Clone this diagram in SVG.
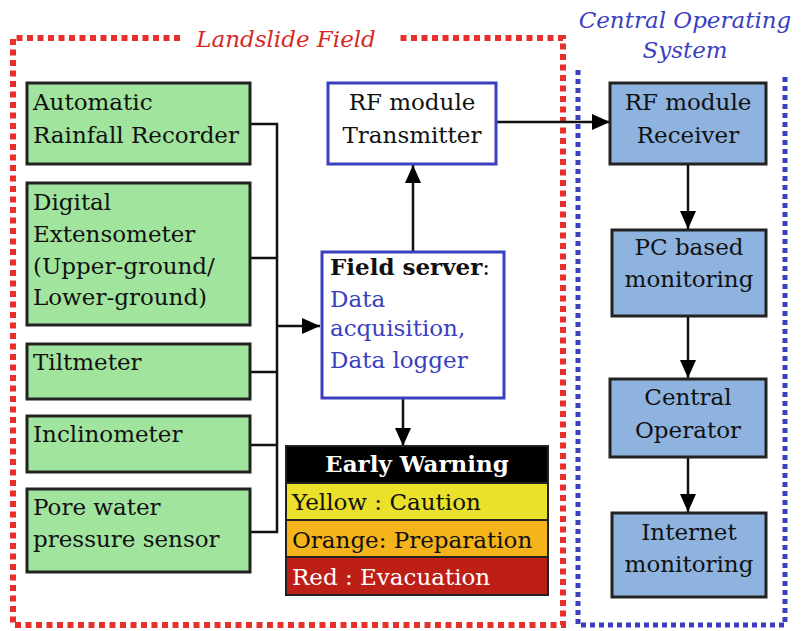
<svg xmlns="http://www.w3.org/2000/svg" width="807" height="631" viewBox="0 0 807 631">
<defs>
<marker id="ah" viewBox="0 0 18 16" refX="18" refY="8" markerWidth="18" markerHeight="16" markerUnits="userSpaceOnUse" orient="auto">
<path d="M0,0 L18,8 L0,16 z" fill="#000"/>
</marker>
</defs>
<style>
text{font-family:"DejaVu Serif","Liberation Serif",serif;font-size:23px;fill:#111;}
.t{font-style:italic;font-size:23px;}
.g{fill:#a1e49e;stroke:#222;stroke-width:3;}
.b{fill:#8fb3df;stroke:#222;stroke-width:3;}
.w{fill:#fff;stroke:#3a3fbf;stroke-width:3;}
.c{fill:none;stroke:#111;stroke-width:2.5;}
.m{text-anchor:middle;}
</style>
<rect width="807" height="631" fill="#fff"/>
<!-- regions -->
<g id="landslide-field">
<path d="M180,38 L13,38 L13,625 L563,625 L563,38 L400,38" fill="none" stroke="#e8302a" stroke-width="6" stroke-dasharray="6 4.5"/>
<text class="t m" x="286" y="47" style="fill:#d42a24">Landslide Field</text>
</g>
<g id="central-operating-system">
<path d="M578,70 L578,625 L785,625 L785,73" fill="none" stroke="#3a3fbf" stroke-width="5" stroke-dasharray="5 4"/>
<text class="t m" x="685" y="28" style="fill:#3a3fbf">Central Operating</text>
<text class="t m" x="685" y="58" style="fill:#3a3fbf">System</text>
</g>
<!-- connectors -->
<g id="connectors">
<path class="c" d="M250,124 H277 V532 H250 M250,258 H277 M250,372 H277 M250,445 H277"/>
<line class="c" x1="277" y1="326" x2="320" y2="326" marker-end="url(#ah)"/>
<line class="c" x1="413" y1="252" x2="413" y2="165" marker-end="url(#ah)"/>
<line class="c" x1="496" y1="122" x2="610" y2="122" marker-end="url(#ah)"/>
<line class="c" x1="403" y1="398" x2="403" y2="446" marker-end="url(#ah)"/>
<line class="c" x1="688" y1="164" x2="688" y2="229" marker-end="url(#ah)"/>
<line class="c" x1="688" y1="316" x2="688" y2="378" marker-end="url(#ah)"/>
<line class="c" x1="688" y1="457" x2="688" y2="512" marker-end="url(#ah)"/>
</g>
<!-- sensors -->
<g id="rainfall-recorder">
<rect class="g" x="27" y="83" width="223" height="81"/>
<text x="33" y="110">Automatic</text>
<text x="33" y="143">Rainfall Recorder</text>
</g>
<g id="extensometer">
<rect class="g" x="27" y="183" width="223" height="142"/>
<text x="33" y="210">Digital</text>
<text x="33" y="242">Extensometer</text>
<text x="33" y="274">(Upper-ground/</text>
<text x="33" y="305">Lower-ground)</text>
</g>
<g id="tiltmeter">
<rect class="g" x="27" y="344" width="223" height="55"/>
<text x="33" y="370">Tiltmeter</text>
</g>
<g id="inclinometer">
<rect class="g" x="27" y="416" width="223" height="56"/>
<text x="33" y="442">Inclinometer</text>
</g>
<g id="pore-water">
<rect class="g" x="27" y="489" width="223" height="83"/>
<text x="33" y="515">Pore water</text>
<text x="33" y="547">pressure sensor</text>
</g>
<!-- field -->
<g id="rf-transmitter">
<rect class="w" x="328" y="83" width="168" height="81"/>
<text class="m" x="412" y="110">RF module</text>
<text class="m" x="412" y="143">Transmitter</text>
</g>
<g id="field-server">
<rect class="w" x="322" y="252" width="182" height="146"/>
<text x="330" y="275" style="font-weight:bold">Field server<tspan style="font-weight:normal">:</tspan></text>
<text x="330" y="307" style="fill:#3a3fbf">Data</text>
<text x="330" y="336" style="fill:#3a3fbf">acquisition,</text>
<text x="330" y="368" style="fill:#3a3fbf">Data logger</text>
</g>
<g id="early-warning">
<rect x="286" y="446" width="262" height="37" fill="#000" stroke="#222" stroke-width="2"/>
<rect x="286" y="483" width="262" height="37" fill="#ebe02a" stroke="#222" stroke-width="2"/>
<rect x="286" y="520" width="262" height="37" fill="#f6b41c" stroke="#222" stroke-width="2"/>
<rect x="286" y="557" width="262" height="38" fill="#bd1f17" stroke="#222" stroke-width="2"/>
<text class="m" x="417" y="472" style="fill:#fff;font-weight:bold">Early Warning</text>
<text x="292" y="510">Yellow : Caution</text>
<text x="292" y="548">Orange: Preparation</text>
<text x="292" y="585" style="fill:#fff">Red : Evacuation</text>
</g>
<!-- central -->
<g id="rf-receiver">
<rect class="b" x="610" y="83" width="156" height="81"/>
<text class="m" x="688" y="110">RF module</text>
<text class="m" x="688" y="143">Receiver</text>
</g>
<g id="pc-monitoring">
<rect class="b" x="612" y="230" width="154" height="86"/>
<text class="m" x="689" y="255">PC based</text>
<text class="m" x="689" y="287">monitoring</text>
</g>
<g id="central-operator">
<rect class="b" x="610" y="379" width="156" height="78"/>
<text class="m" x="688" y="405">Central</text>
<text class="m" x="688" y="438">Operator</text>
</g>
<g id="internet-monitoring">
<rect class="b" x="612" y="513" width="154" height="84"/>
<text class="m" x="689" y="540">Internet</text>
<text class="m" x="689" y="572">monitoring</text>
</g>
</svg>
